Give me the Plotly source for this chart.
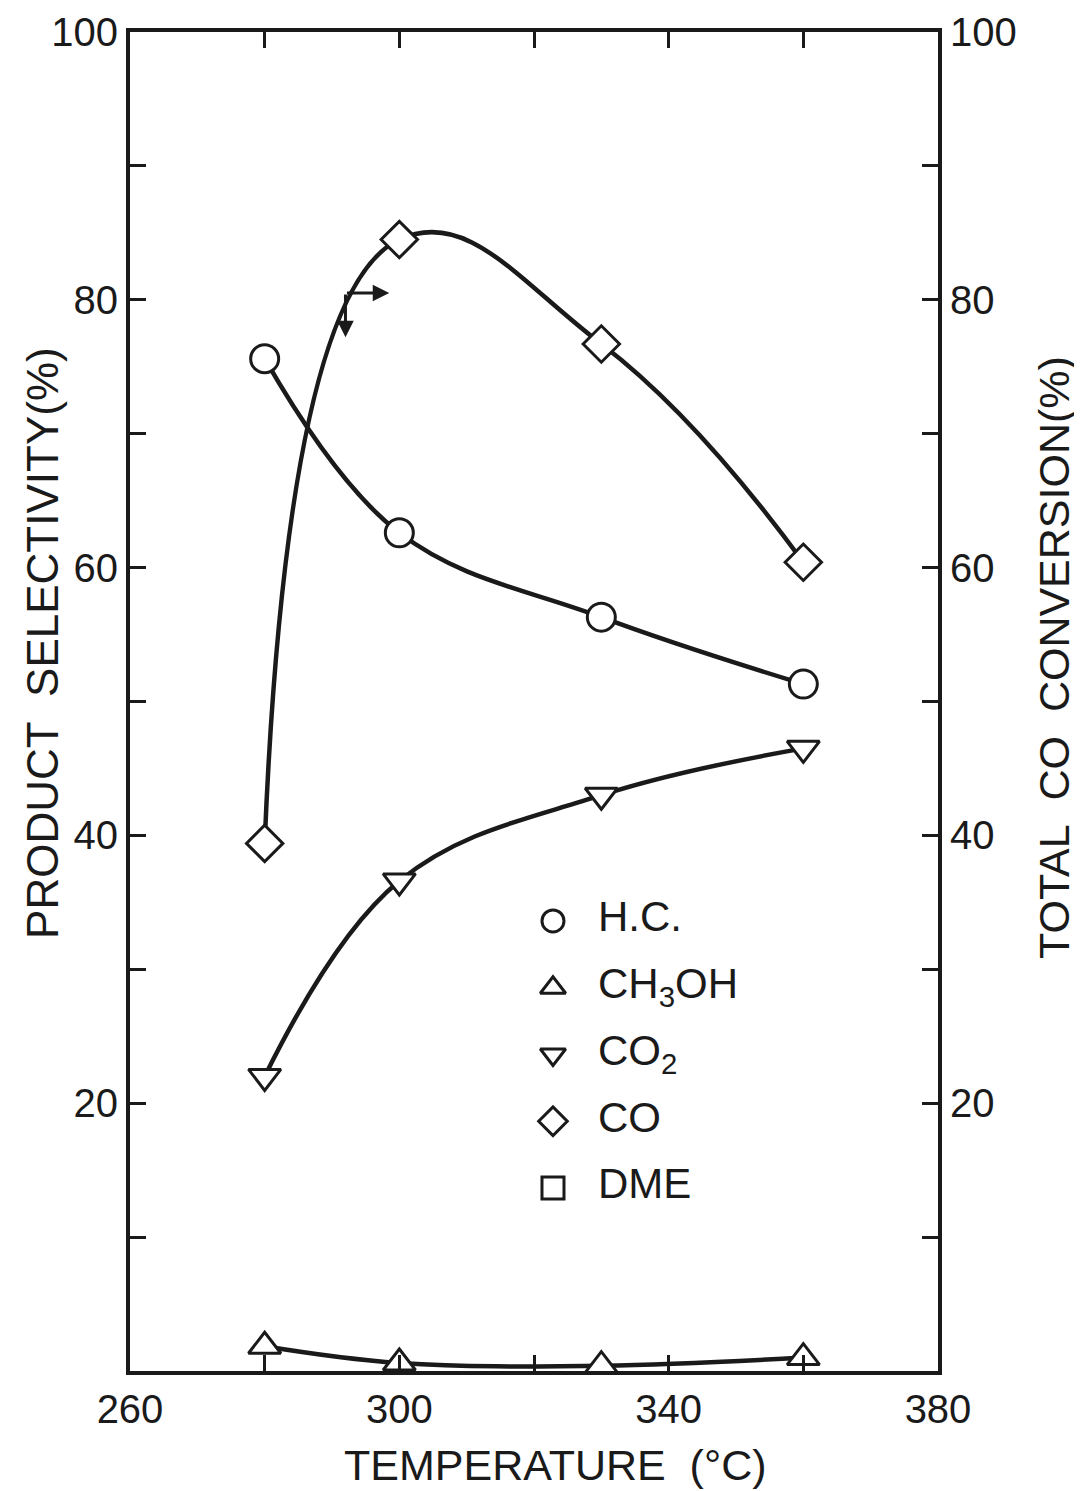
import plotly.graph_objects as go

# ---- data ----
temperature = [280, 300, 330, 360]
hc_selectivity = [75.6, 62.6, 56.3, 51.3]
ch3oh_selectivity = [1.85, 0.6, 0.4, 1.0]
co2_selectivity = [22.0, 36.6, 43.0, 46.5]
co_conversion = [39.4, 84.5, 76.7, 60.4]

legend_labels = ["H.C.", "CH<sub>3</sub>OH", "CO<sub>2</sub>", "CO", "DME"]
legend_symbols = ["circle-open", "triangle-up-open", "triangle-down-open", "diamond-open", "square-open"]
legend_rows = [0, 1, 2, 3, 4]

x_tickvals = [260, 280, 300, 320, 340, 360, 380]
x_ticktext = ["260", "", "300", "", "340", "", "380"]
y_tickvals = [10, 20, 30, 40, 50, 60, 70, 80, 90, 100]
y_ticktext = ["", "20", "", "40", "", "60", "", "80", "", "100"]

x_title = "TEMPERATURE\u00a0\u00a0(°C)"
y_title = "PRODUCT\u00a0\u00a0SELECTIVITY(%)"
y2_title = "TOTAL\u00a0\u00a0CO\u00a0\u00a0CONVERSION(%)"

FONT = "Liberation Sans, Arial, sans-serif"
INK = "#1a1a1a"

fig = go.Figure()

def series(y, symbol, yaxis="y", name="", smoothing=1.1):
    fig.add_trace(go.Scatter(
        x=temperature, y=y, mode="lines+markers", name=name, yaxis=yaxis,
        line=dict(color=INK, width=4.5, shape="spline", smoothing=smoothing),
        marker=dict(symbol=symbol, size=28, color="white",
                    line=dict(color=INK, width=3)),
        showlegend=False, cliponaxis=False,
    ))

series(hc_selectivity, "circle", name="H.C.")
series(ch3oh_selectivity, "triangle-up", name="CH3OH")
series(co2_selectivity, "triangle-down", name="CO2")
series(co_conversion, "diamond", yaxis="y2", name="CO", smoothing=1.3)

# hand-made legend
fig.add_trace(go.Scatter(
    x=[0] * len(legend_rows), y=legend_rows, xaxis="x3", yaxis="y3",
    mode="markers", showlegend=False, cliponaxis=False,
    marker=dict(symbol=legend_symbols, size=22, color=INK,
                line=dict(color=INK, width=3)),
))
fig.add_trace(go.Scatter(
    x=[1] * len(legend_rows), y=legend_rows, xaxis="x3", yaxis="y3",
    mode="text", text=legend_labels, textposition="middle right",
    textfont=dict(family=FONT, size=42, color=INK),
    showlegend=False, cliponaxis=False,
))

# arrow showing the CO curve belongs to the right axis
arrow_origin = (292, 80.5)
fig.add_annotation(x=298.5, y=80.5, ax=arrow_origin[0], ay=arrow_origin[1],
                   xref="x", yref="y", axref="x", ayref="y", text="",
                   showarrow=True, arrowhead=2, arrowsize=1.1, arrowwidth=3,
                   arrowcolor=INK)
fig.add_annotation(x=292, y=77.2, ax=arrow_origin[0], ay=arrow_origin[1],
                   xref="x", yref="y", axref="x", ayref="y", text="",
                   showarrow=True, arrowhead=2, arrowsize=1.1, arrowwidth=3,
                   arrowcolor=INK)

# axis titles
fig.add_annotation(x=0.527, y=-0.0702, xref="paper", yref="paper", text=x_title,
                   showarrow=False, xanchor="center", yanchor="middle",
                   font=dict(family=FONT, size=43, color=INK))
fig.add_annotation(x=-0.1077, y=0.5437, xref="paper", yref="paper", text=y_title,
                   showarrow=False, textangle=-90, xanchor="center", yanchor="middle",
                   font=dict(family=FONT, size=44, color=INK))
fig.add_annotation(x=1.1436, y=0.5325, xref="paper", yref="paper", text=y2_title,
                   showarrow=False, textangle=-90, xanchor="center", yanchor="middle",
                   font=dict(family=FONT, size=43, color=INK))

axis_common = dict(
    showgrid=False, zeroline=False, showline=True, linecolor=INK, linewidth=4,
    ticks="inside", ticklen=16, tickwidth=3, tickcolor=INK,
    tickfont=dict(family=FONT, size=40, color=INK), automargin=False,
    ticklabeloverflow="allow",
)

fig.update_layout(
    width=1082, height=1491,
    margin=dict(l=122, r=152, t=24, b=128),
    paper_bgcolor="white", plot_bgcolor="white",
    xaxis=dict(range=[260, 380], tickmode="array", tickvals=x_tickvals,
               ticktext=x_ticktext, mirror="ticks", ticklabelstandoff=0,
               **axis_common),
    yaxis=dict(range=[0, 100], tickmode="array", tickvals=y_tickvals,
               ticktext=y_ticktext, **axis_common),
    yaxis2=dict(range=[0, 100], tickmode="array", tickvals=y_tickvals,
                ticktext=y_ticktext, overlaying="y", side="right",
                **axis_common),
    xaxis3=dict(domain=[0.5235, 0.5792], range=[0, 1], visible=False,
                anchor="y3"),
    yaxis3=dict(domain=[0.1367, 0.3361], range=[4, 0], visible=False,
                anchor="x3"),
)

fig.write_html("out.html")
